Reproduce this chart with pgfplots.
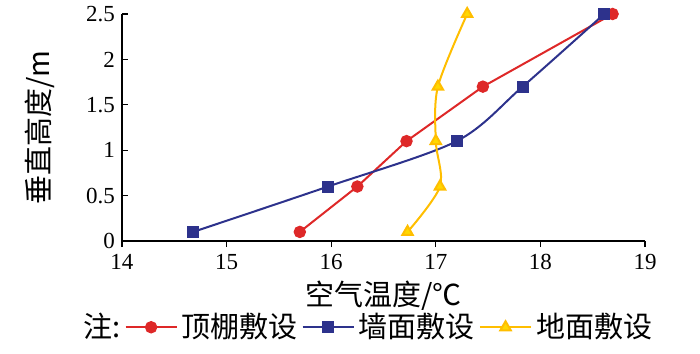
\documentclass[border=0pt]{standalone}
\usepackage{fontspec}
\setmainfont{Liberation Serif}
\newfontfamily\cjk{Noto Sans CJK SC}
\usepackage{pgfplots}
\pgfplotsset{compat=1.18}
\definecolor{cred}{RGB}{222,40,40}
\definecolor{cblue}{RGB}{45,50,140}
\definecolor{cyel}{RGB}{255,190,0}
\begin{document}
\begin{tikzpicture}
\useasboundingbox (-61pt,-56pt) rectangle (289pt,120.5pt);
\begin{axis}[
  at={(0,0)}, anchor=south west,
  scale only axis, width=261.5pt, height=113.5pt,
  xmin=14, xmax=19, ymin=0, ymax=2.5,
  axis lines=left, axis line style={-, line width=0.8pt},
  xtick={14,15,16,17,18,19}, ytick={0,0.5,1,1.5,2,2.5},
  yticklabels={0,0.5,1,1.5,2,2.5},
  x tick style={line width=0.6pt, black}, y tick style={line width=0.6pt, black},
  xtick align=outside, ytick align=inside,
  major tick length=3pt,
  tick label style={font=\rmfamily\fontsize{11.5}{12}\selectfont},
  /pgf/number format/assume math mode=true,
  xlabel={\cjk 空气温度/℃}, ylabel={\cjk 垂直高度/m},
  label style={font=\fontsize{14.5}{15}\selectfont},
  xlabel style={yshift=1pt},
  ylabel style={yshift=9pt},
  legend columns=-1,
  legend style={draw=none, at={(0.47,-0.38)}, anchor=center, font=\cjk\fontsize{14.5}{15}\selectfont, /tikz/every even column/.append style={column sep=0pt}, inner sep=0pt},
  legend image code/.code={\draw[mark repeat=2,mark phase=2] plot coordinates {(0cm,0cm)(0.45cm,0cm)(0.9cm,0cm)};},
]
\addlegendimage{empty legend}
\addlegendentry{注:}
\addplot[cred, line width=1pt, mark=*, mark size=2.6pt, mark options={fill=cred}] coordinates {
(15.70,0.1) (16.25,0.6) (16.72,1.1) (17.45,1.7) (18.69,2.5)};
\addlegendentry{顶棚敷设}
\addplot[cblue, line width=1pt, smooth, mark=square*, mark size=2.5pt, mark options={fill=cblue}] coordinates {
(14.68,0.1) (15.97,0.6) (17.20,1.1) (17.83,1.7) (18.61,2.5)};
\addlegendentry{墙面敷设}
\addplot[cyel, line width=1pt, smooth, mark=triangle*, mark size=3pt, mark options={fill=cyel!60!yellow}] coordinates {
(16.73,0.1) (17.04,0.6) (17.00,1.1) (17.02,1.7) (17.30,2.5)};
\addlegendentry{地面敷设}
\end{axis}
\end{tikzpicture}
\end{document}
